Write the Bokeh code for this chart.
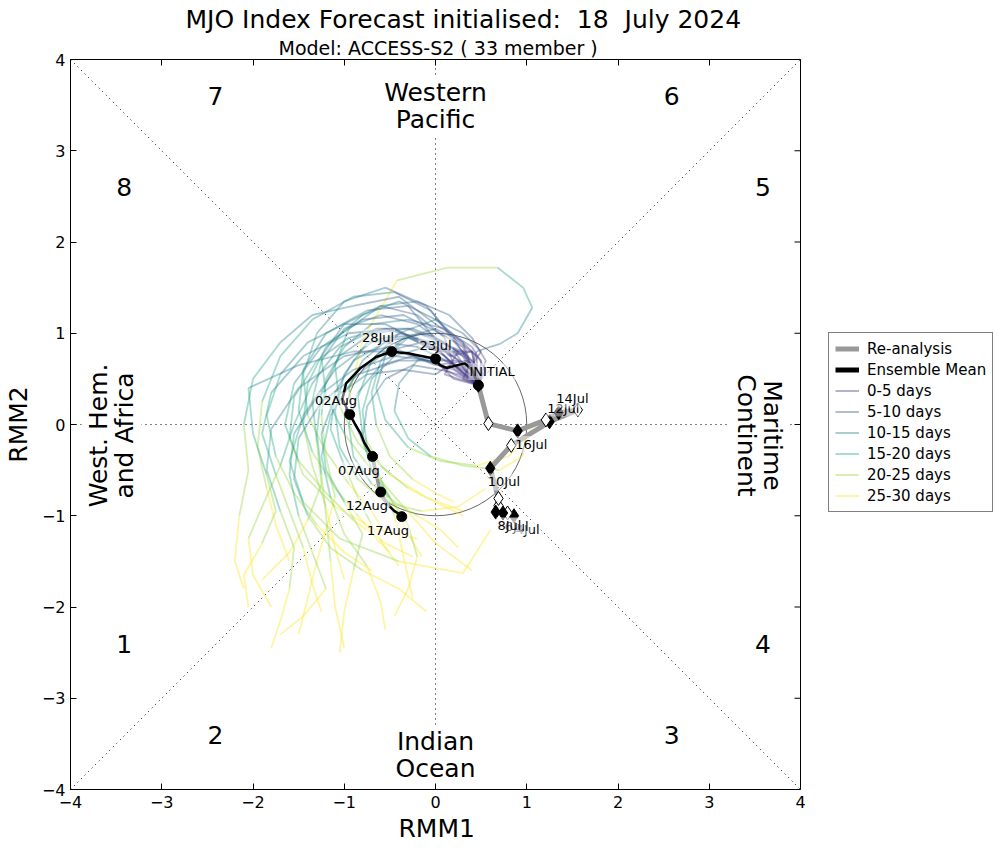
import math
from bokeh.plotting import figure
from bokeh.models import Range1d, LinearAxis, Legend, LegendItem, FixedTicker, Title
from bokeh.embed import file_html
from bokeh.resources import INLINE
from bokeh.core.properties import value

FONT = "DejaVu Sans"

title_text = "MJO Index Forecast initialised:\u00a0 18\u00a0 July 2024"
subtitle_text = "Model: ACCESS-S2 ( 33 member )"
x_label = "RMM1"
y_label = "RMM2"

# ---------------- data ----------------
reanalysis_dates = ["4Jul", "5Jul", "6Jul", "7Jul", "8Jul", "9Jul", "10Jul", "11Jul",
                    "12Jul", "13Jul", "14Jul", "15Jul", "16Jul", "17Jul", "INITIAL"]
reanalysis_rmm1 = [0.86, 0.79, 0.74, 0.69, 0.66, 0.69, 0.60, 0.83, 1.25, 1.56, 1.35, 1.21, 0.90, 0.58, 0.47]
reanalysis_rmm2 = [-1.00, -0.97, -0.97, -0.89, -0.96, -0.81, -0.48, -0.23, 0.03, 0.16, 0.13, 0.05, -0.07, 0.01, 0.43]
reanalysis_labelled = [True, False, True, False, True, False, True, False, True, False, True, False, True, False, True]

mean_dates = ["18Jul", "19Jul", "20Jul", "21Jul", "22Jul", "23Jul", "24Jul", "25Jul", "26Jul", "27Jul",
              "28Jul", "29Jul", "30Jul", "31Jul", "01Aug", "02Aug", "03Aug", "04Aug", "05Aug", "06Aug",
              "07Aug", "08Aug", "09Aug", "10Aug", "11Aug", "12Aug", "13Aug", "14Aug", "15Aug", "16Aug", "17Aug"]
mean_rmm1 = [0.47, 0.40, 0.32, 0.12, 0.05, 0.00, -0.10, -0.20, -0.30, -0.40,
             -0.48, -0.65, -0.82, -0.98, -1.02, -0.94, -0.88, -0.82, -0.78, -0.73,
             -0.69, -0.67, -0.65, -0.63, -0.62, -0.60, -0.56, -0.50, -0.45, -0.40, -0.37]
mean_rmm2 = [0.43, 0.60, 0.67, 0.62, 0.65, 0.72, 0.74, 0.76, 0.78, 0.79,
             0.80, 0.74, 0.62, 0.45, 0.28, 0.11, 0.00, -0.10, -0.20, -0.28,
             -0.35, -0.45, -0.55, -0.63, -0.70, -0.74, -0.82, -0.90, -0.95, -0.98, -1.01]

# member tracks sampled at days 0, 2.5, 5, ..., 30
member_days = [0, 2.5, 5, 7.5, 10, 12.5, 15, 17.5, 20, 22.5, 25, 27.5, 30]
member_tracks = [
    [(0.47, 0.43), (0.30, 0.62), (0.12, 0.70), (-0.20, 0.85), (-0.55, 0.90), (-0.90, 0.70), (-1.10, 0.35), (-1.15, -0.05), (-1.00, -0.45), (-0.85, -0.80), (-0.70, -1.10), (-0.55, -1.35), (-0.40, -1.55)],
    [(0.47, 0.43), (0.22, 0.78), (-0.05, 0.82), (-0.45, 1.05), (-0.95, 1.00), (-1.45, 0.75), (-1.80, 0.35), (-1.90, -0.10), (-1.75, -0.55), (-1.60, -0.95), (-1.45, -1.35), (-1.35, -1.75), (-1.25, -2.05)],
    [(0.47, 0.43), (0.40, 0.80), (0.15, 0.75), (-0.30, 1.30), (-0.75, 1.25), (-1.20, 1.00), (-1.45, 0.60), (-1.50, 0.15), (-1.35, -0.30), (-1.10, -0.70), (-0.85, -1.00), (-0.65, -1.25), (-0.50, -1.40)],
    [(0.47, 0.43), (0.40, 0.65), (0.45, 0.80), (0.60, 0.85), (0.70, 0.88), (0.90, 1.00), (1.06, 1.28), (0.96, 1.50), (0.68, 1.72), (0.13, 1.72), (-0.42, 1.58), (-0.79, 0.95), (-0.95, 0.30)],
    [(0.47, 0.43), (0.10, 0.55), (0.25, 0.80), (-0.10, 1.00), (-0.50, 0.95), (-0.80, 0.70), (-0.95, 0.40), (-0.90, 0.05), (-0.75, -0.30), (-0.60, -0.60), (-0.45, -0.90), (-0.30, -1.20), (-0.15, -1.45)],
    [(0.47, 0.43), (0.35, 0.70), (0.00, 0.65), (-0.40, 0.80), (-0.90, 0.80), (-1.50, 0.65), (-2.05, 0.40), (-2.00, -0.10), (-1.85, -0.55), (-1.75, -0.95), (-1.90, -1.30), (-2.10, -1.65), (-2.05, -2.00)],
    [(0.47, 0.43), (0.25, 0.60), (0.05, 0.80), (-0.30, 0.95), (-0.70, 0.90), (-1.10, 0.60), (-1.45, 0.10), (-1.60, -0.40), (-1.45, -0.85), (-1.05, -1.25), (-0.40, -1.50), (0.30, -1.63), (0.60, -1.16)],
    [(0.47, 0.43), (0.50, 0.70), (0.30, 0.90), (0.00, 1.15), (-0.40, 1.35), (-0.80, 1.20), (-1.20, 0.85), (-1.40, 0.45), (-1.45, 0.00), (-1.35, -0.45), (-1.20, -0.90), (-1.10, -1.35), (-1.00, -1.70)],
    [(0.47, 0.43), (0.20, 0.50), (0.05, 0.65), (-0.25, 0.75), (-0.60, 0.65), (-0.85, 0.35), (-0.95, 0.00), (-0.90, -0.35), (-0.70, -0.65), (-0.45, -0.85), (-0.20, -1.00), (0.05, -1.15), (0.25, -1.35)],
    [(0.47, 0.43), (0.30, 0.75), (0.10, 0.90), (-0.25, 1.05), (-0.65, 1.05), (-1.05, 0.85), (-1.35, 0.45), (-1.55, 0.00), (-1.70, -0.45), (-1.90, -0.90), (-2.05, -1.25), (-2.00, -1.65), (-1.80, -2.00)],
    [(0.47, 0.43), (0.55, 0.60), (0.40, 0.85), (0.10, 1.05), (-0.30, 1.15), (-0.70, 1.10), (-1.00, 0.85), (-1.20, 0.50), (-1.25, 0.10), (-1.20, -0.35), (-1.10, -0.80), (-1.30, -1.50), (-1.50, -2.30)],
    [(0.47, 0.43), (0.15, 0.65), (0.00, 0.55), (-0.35, 0.60), (-0.75, 0.55), (-1.10, 0.30), (-1.25, -0.10), (-1.20, -0.50), (-1.00, -0.85), (-0.80, -1.20), (-0.90, -1.60), (-1.00, -2.05), (-1.05, -2.50)],
    [(0.47, 0.43), (0.35, 0.55), (0.25, 0.70), (0.00, 0.90), (-0.30, 0.95), (-0.55, 0.75), (-0.65, 0.40), (-0.55, 0.05), (-0.30, -0.25), (0.05, -0.40), (0.45, -0.45), (0.80, -0.35), (1.05, -0.10)],
    [(0.47, 0.43), (0.45, 0.75), (0.20, 0.95), (-0.10, 1.30), (-0.55, 1.50), (-1.00, 1.35), (-1.30, 1.00), (-1.45, 0.55), (-1.40, 0.10), (-1.20, -0.30), (-0.95, -0.65), (-0.70, -0.95), (-0.55, -1.20)],
    [(0.47, 0.43), (0.25, 0.70), (0.00, 0.70), (-0.40, 0.70), (-0.85, 0.55), (-1.25, 0.25), (-1.50, -0.15), (-1.55, -0.60), (-1.40, -1.00), (-1.15, -1.35), (-0.80, -1.60), (-0.40, -1.80), (-0.10, -2.05)],
    [(0.47, 0.43), (0.40, 0.65), (0.50, 0.80), (0.30, 1.00), (0.00, 1.15), (-0.40, 1.00), (-0.70, 0.70), (-0.85, 0.30), (-0.80, -0.10), (-0.60, -0.45), (-0.30, -0.70), (0.00, -0.85), (0.30, -1.00)],
    [(0.47, 0.43), (0.20, 0.60), (-0.10, 0.70), (-0.50, 0.85), (-1.00, 0.75), (-1.50, 0.40), (-1.80, -0.05), (-1.85, -0.50), (-1.70, -0.95), (-1.55, -1.35), (-1.60, -1.80), (-1.70, -2.15), (-1.80, -2.45)],
    [(0.47, 0.43), (0.30, 0.85), (0.05, 1.00), (-0.35, 1.20), (-0.80, 1.15), (-1.25, 0.85), (-1.55, 0.45), (-1.65, 0.00), (-1.50, -0.40), (-1.20, -0.75), (-0.90, -1.05), (-0.55, -1.30), (-0.25, -1.45)],
    [(0.47, 0.43), (0.50, 0.55), (0.35, 0.70), (0.20, 0.95), (0.00, 1.05), (-0.35, 0.95), (-0.60, 0.70), (-0.70, 0.35), (-0.65, 0.00), (-0.50, -0.35), (-0.25, -0.60), (0.00, -0.75), (0.20, -0.85)],
    [(0.47, 0.43), (0.10, 0.75), (-0.15, 0.90), (-0.55, 1.10), (-1.00, 1.10), (-1.40, 0.90), (-1.70, 0.55), (-1.85, 0.10), (-1.75, -0.35), (-1.55, -0.75), (-1.30, -1.10), (-1.00, -1.40), (-0.70, -1.60)],
    [(0.47, 0.43), (0.30, 0.50), (0.40, 0.70), (0.20, 0.80), (-0.10, 0.85), (-0.45, 0.75), (-0.70, 0.50), (-0.80, 0.15), (-0.75, -0.25), (-0.60, -0.60), (-0.45, -1.00), (-0.35, -1.45), (-0.25, -1.90)],
    [(0.47, 0.43), (0.35, 0.75), (0.15, 0.85), (-0.20, 1.10), (-0.60, 1.20), (-1.00, 1.05), (-1.25, 0.70), (-1.35, 0.25), (-1.30, -0.20), (-1.25, -0.65), (-1.40, -1.05), (-1.60, -1.40), (-1.90, -1.70)],
    [(0.47, 0.43), (0.15, 0.70), (0.00, 0.85), (-0.35, 1.00), (-0.75, 0.90), (-1.00, 0.55), (-1.10, 0.15), (-1.05, -0.25), (-0.85, -0.60), (-0.55, -0.85), (-0.15, -0.95), (0.25, -0.90), (0.55, -0.70)],
    [(0.47, 0.43), (0.45, 0.65), (0.25, 0.85), (-0.05, 1.25), (-0.45, 1.45), (-0.90, 1.40), (-1.35, 1.15), (-1.70, 0.75), (-1.90, 0.25), (-1.95, -0.25), (-1.85, -0.70), (-1.75, -1.10), (-1.60, -1.50)],
    [(0.47, 0.43), (0.25, 0.55), (0.05, 0.60), (-0.25, 0.65), (-0.55, 0.50), (-0.75, 0.20), (-0.80, -0.15), (-0.70, -0.50), (-0.50, -0.80), (-0.30, -1.10), (-0.20, -1.45), (-0.30, -1.80), (-0.45, -2.10)],
    [(0.47, 0.43), (0.40, 0.80), (0.20, 0.80), (-0.15, 0.90), (-0.55, 0.80), (-0.90, 0.50), (-1.15, 0.10), (-1.25, -0.35), (-1.15, -0.80), (-1.00, -1.20), (-0.75, -1.55), (-0.60, -1.95), (-0.55, -2.25)],
    [(0.47, 0.43), (0.30, 0.90), (0.00, 1.10), (-0.40, 1.40), (-0.90, 1.30), (-1.35, 1.20), (-1.70, 0.90), (-2.00, 0.50), (-2.10, 0.00), (-2.05, -0.50), (-2.15, -1.00), (-2.20, -1.50), (-2.10, -1.80)],
    [(0.47, 0.43), (0.20, 0.65), (0.10, 0.95), (-0.20, 1.20), (-0.60, 1.30), (-1.00, 1.10), (-1.25, 0.75), (-1.20, 0.30), (-1.00, -0.10), (-0.70, -0.50), (-0.35, -0.90), (0.00, -1.30), (0.40, -1.60)],
    [(0.47, 0.43), (0.40, 0.55), (0.20, 0.65), (0.00, 0.75), (-0.20, 0.70), (-0.40, 0.45), (-0.45, 0.15), (-0.30, -0.15), (-0.05, -0.35), (0.30, -0.45), (0.70, -0.50), (0.95, -0.35), (1.05, -0.05)],
    [(0.47, 0.43), (0.30, 0.80), (0.05, 0.90), (-0.30, 1.05), (-0.70, 1.00), (-1.05, 0.75), (-1.25, 0.35), (-1.30, -0.10), (-1.25, -0.55), (-1.20, -1.00), (-1.15, -1.50), (-1.10, -2.00), (-1.00, -2.45)],
    [(0.47, 0.43), (0.55, 0.70), (0.40, 0.95), (0.15, 1.20), (-0.20, 1.35), (-0.60, 1.30), (-0.95, 1.05), (-1.10, 0.65), (-1.05, 0.20), (-0.85, -0.20), (-0.50, -0.55), (-0.10, -0.80), (0.30, -0.95)],
    [(0.47, 0.43), (0.20, 0.55), (-0.05, 0.70), (-0.45, 0.75), (-0.90, 0.60), (-1.30, 0.30), (-1.55, -0.10), (-1.60, -0.55), (-1.50, -1.00), (-1.35, -1.40), (-1.20, -1.80), (-1.45, -2.10), (-1.70, -2.30)],
    [(0.47, 0.43), (0.35, 0.65), (0.10, 0.80), (-0.20, 0.95), (-0.55, 1.05), (-0.95, 0.95), (-1.30, 0.70), (-1.55, 0.30), (-1.60, -0.15), (-1.45, -0.55), (-1.10, -0.90), (-0.65, -1.15), (-0.20, -1.25)],
]

day_groups = ["0-5 days", "5-10 days", "10-15 days", "15-20 days", "20-25 days", "25-30 days"]
group_colors = ["#443A83", "#355F8D", "#26828E", "#22A884", "#95D840", "#FDE725"]
group_alpha = [0.4, 0.4, 0.4, 0.4, 0.4, 0.42]

phase_numbers = ["1", "2", "3", "4", "5", "6", "7", "8"]
phase_x = [-3.5, -2.5, 2.5, 3.5, 3.5, 2.5, -2.5, -3.5]
phase_y = [-2.5, -3.5, -3.5, -2.5, 2.5, 3.5, 3.5, 2.5]

region_names = ["Western\nPacific", "Indian\nOcean", "West. Hem.\nand Africa", "Maritime\nContinent"]
region_x = [0.0, 0.0, -3.55, 3.55]
region_y = [3.49, -3.62, -0.12, -0.12]
region_angle = [0.0, 0.0, math.pi / 2, -math.pi / 2]

ticks = [-4, -3, -2, -1, 0, 1, 2, 3, 4]
tick_labels = {t: (str(t) if t >= 0 else "\u2212" + str(-t)) for t in ticks}

# ---------------- figure ----------------
# The frame is widened to the right so that the legend (outside the RMM box) can be drawn.
PX_PER_UNIT = 730 / 8.0
FRAME_W = 928
x_end = -4 + FRAME_W / PX_PER_UNIT

p = figure(frame_width=FRAME_W, frame_height=730, x_range=Range1d(-4, x_end), y_range=Range1d(-4, 4),
           output_backend="svg", toolbar_location=None, min_border_left=70, min_border_top=59,
           min_border_right=8, min_border_bottom=0, background_fill_color="white")
p.title.visible = False
p.grid.visible = False
p.outline_line_color = None

for ax in [p.xaxis[0], p.yaxis[0]]:
    ax.ticker = FixedTicker(ticks=ticks)
    ax.major_label_overrides = tick_labels
    ax.major_tick_in = 6
    ax.major_tick_out = 0
    ax.minor_tick_line_color = None
    ax.major_label_text_font = FONT
    ax.major_label_text_font_size = "16px"
    ax.major_label_text_color = "black"
    ax.axis_label_text_font = FONT
    ax.axis_label_text_font_size = "25px"
    ax.axis_label_text_font_style = "normal"
    ax.axis_label_text_color = "black"
    ax.axis_line_color = "black"
    ax.major_tick_line_color = "black"
p.xaxis[0].bounds = (ticks[0], ticks[-1])
p.yaxis[0].axis_label = y_label
p.xaxis[0].major_label_standoff = 6
p.yaxis[0].major_label_standoff = 5
p.yaxis[0].axis_label_standoff = 6

top_ax = LinearAxis(ticker=FixedTicker(ticks=ticks), major_tick_in=6, major_tick_out=0,
                    minor_tick_line_color=None, major_label_text_font_size="0px",
                    major_label_standoff=0, bounds=(ticks[0], ticks[-1]), axis_line_color="black")
p.add_layout(top_ax, "above")
p.add_layout(Title(text=subtitle_text, text_font=FONT, text_font_size="19px", text_color="black",
                   text_font_style="normal", align="left", offset=208, standoff=2), "above")
p.add_layout(Title(text=title_text, text_font=FONT, text_font_size="25px", text_color="black",
                   text_font_style="normal", align="left", offset=115, standoff=0), "above")
p.add_layout(Title(text=x_label, text_font=FONT, text_font_size="25px", text_color="black",
                   text_font_style="normal", align="left", offset=328, standoff=2), "below")

# right edge of the RMM box with inward ticks
p.line([ticks[-1], ticks[-1]], [ticks[0], ticks[-1]], line_color="black", line_width=1)
p.ray(x=[ticks[-1]] * len(ticks), y=ticks, length=6, length_units="screen", angle=math.pi,
      line_color="black", line_width=1)

# reference lines
dot = dict(line_color="black", line_dash="1 4", line_width=1)
p.line([-4, 4], [-4, 4], **dot)
p.line([-4, 4], [4, -4], **dot)
p.line([-4, 4], [0, 0], **dot)
p.line([0, 0], [-4, 4], **dot)
p.circle(x=[0], y=[0], radius=1, fill_color=None, line_color="black", line_width=0.6)

# phase numbers
p.text(phase_x, phase_y, text=phase_numbers, text_font=value(FONT), text_font_size="25px",
       text_align="left", text_baseline="alphabetic", text_color="black", y_offset=-9)

# region names with white boxes
p.text(region_x, region_y, text=region_names, angle=region_angle, text_font=value(FONT),
       text_font_size="25px", text_align="center", text_baseline="middle", text_color="black",
       text_line_height=0.92, background_fill_color="white", padding=2)

# ensemble members
for g in reversed(range(6)):
    xs = [[pt[0] for pt in m[2 * g:2 * g + 3]] for m in member_tracks]
    ys = [[pt[1] for pt in m[2 * g:2 * g + 3]] for m in member_tracks]
    p.multi_line(xs, ys, line_color=group_colors[g], line_alpha=group_alpha[g], line_width=1.8)

# re-analysis
p.line(reanalysis_rmm1, reanalysis_rmm2, line_color="#999999", line_width=5)
fill = ["black" if i % 2 == 0 else "white" for i in range(len(reanalysis_rmm1))]
p.scatter(reanalysis_rmm1, reanalysis_rmm2, marker="diamond", size=14, fill_color=fill,
          line_color="black", line_width=1)

# ensemble mean
p.line(mean_rmm1, mean_rmm2, line_color="black", line_width=2.5)
p.line(mean_rmm1[20:28], mean_rmm2[20:28], line_color="#999999", line_width=3.5)
p.scatter(mean_rmm1[::5], mean_rmm2[::5], marker="circle", size=10, fill_color="black", line_color="black")


def sgn(v):
    return 0 if abs(v) < 0.02 else (1 if v > 0 else -1)


off = 0.15
lab_x, lab_y, lab_t = [], [], []
for i, d in enumerate(reanalysis_dates):
    if reanalysis_labelled[i]:
        lab_x.append(reanalysis_rmm1[i] + off * sgn(reanalysis_rmm1[i]))
        lab_y.append(reanalysis_rmm2[i] + off * sgn(reanalysis_rmm2[i]))
        lab_t.append(d)
for i in range(5, len(mean_dates), 5):
    lab_x.append(mean_rmm1[i] + off * sgn(mean_rmm1[i]))
    lab_y.append(mean_rmm2[i] + off * sgn(mean_rmm2[i]))
    lab_t.append(mean_dates[i])
p.text(lab_x, lab_y, text=lab_t, text_font=value(FONT), text_font_size="13px",
       text_align="center", text_baseline="middle", text_color="black",
       background_fill_color="white", background_fill_alpha=0.45, padding=1)

# legend (proxy renderers with a single undrawn NaN point)
nan = float("nan")
leg_re = p.line([nan], [nan], line_color="#999999", line_width=5)
leg_mean = p.line([nan], [nan], line_color="black", line_width=5)
items = [LegendItem(label="Re-analysis", renderers=[leg_re]),
         LegendItem(label="Ensemble Mean", renderers=[leg_mean])]
for g in range(6):
    rr = p.line([nan], [nan], line_color=group_colors[g], line_alpha=group_alpha[g], line_width=2)
    items.append(LegendItem(label=day_groups[g], renderers=[rr]))
legend = Legend(items=items, location=(758, 277), border_line_color="black", border_line_width=1,
                label_text_font=FONT, label_text_font_size="15px", label_text_color="black",
                glyph_width=24, glyph_height=19, label_height=19, label_standoff=8, spacing=2,
                padding=6, margin=0, background_fill_color="white", background_fill_alpha=1)
p.add_layout(legend, "center")

open("out.html", "w").write(file_html(p, INLINE))
